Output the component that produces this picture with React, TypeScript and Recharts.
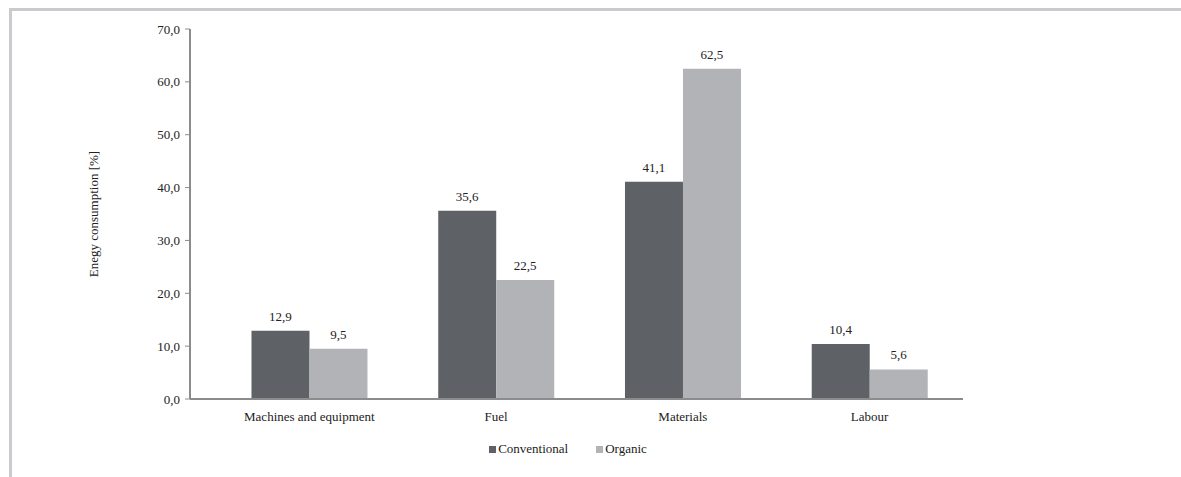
import React from 'react';
import { BarChart, Bar, XAxis, YAxis, Legend, LabelList } from 'recharts';

const categories = ['Machines and equipment', 'Fuel', 'Materials', 'Labour'];
const conventional = [12.9, 35.6, 41.1, 10.4];
const organic = [9.5, 22.5, 62.5, 5.6];
const yTicks = [0, 10, 20, 30, 40, 50, 60, 70];

const data = categories.map((c, i) => ({ name: c, Conventional: conventional[i], Organic: organic[i] }));

const FONT = '"Liberation Serif", "DejaVu Serif", serif';
const CONV = '#5e6266';
const ORG = '#b2b3b6';
const fmt = (v: any) => Number(v).toFixed(1).replace('.', ',');

if (typeof document !== 'undefined') {
  document.documentElement.style.overflow = 'hidden';
  document.body.style.overflow = 'hidden';
}

const LegendContent = () => (
  <div style={{ display: 'flex', justifyContent: 'center', fontFamily: FONT, fontSize: 13, color: '#222' }}>
    <span style={{ display: 'flex', alignItems: 'center', marginRight: 28 }}>
      <span style={{ width: 7, height: 7, background: CONV, display: 'inline-block', marginRight: 2 }} />
      Conventional
    </span>
    <span style={{ display: 'flex', alignItems: 'center' }}>
      <span style={{ width: 7, height: 7, background: ORG, display: 'inline-block', marginRight: 2 }} />
      Organic
    </span>
  </div>
);

export default function App() {
  return (
    <div style={{ position: 'fixed', left: 0, top: 0, width: 1181, height: 477, overflow: 'hidden', background: '#fff' }}>
      <div
        style={{
          position: 'absolute',
          left: 9,
          top: 8,
          width: 1300,
          height: 600,
          borderTop: '3px solid #cbcbcf',
          borderLeft: '3px solid #cbcbcf',
        }}
      />
      <div style={{ position: 'absolute', left: 8, top: 8 }}>
        <BarChart
          width={1173}
          height={469}
          data={data}
          margin={{ top: 21, right: 218, left: 122, bottom: 30 }}
          barCategoryGap="19%"
          barGap={0}
        >
          <XAxis
            dataKey="name"
            tickLine={false}
            axisLine={{ stroke: '#8c8c8c', strokeWidth: 2 }}
            tick={{ fontFamily: FONT, fontSize: 13, fill: '#222' }}
            tickMargin={7}
            height={30}
            padding={{ left: 26, right: 0 }}
          />
          <YAxis
            domain={[0, 70]}
            ticks={yTicks}
            tickFormatter={fmt}
            width={60}
            axisLine={{ stroke: '#8c8c8c', strokeWidth: 2 }}
            tickLine={{ stroke: '#8c8c8c' }}
            tickSize={5}
            tickMargin={5}
            tick={{ fontFamily: FONT, fontSize: 13, fill: '#222' }}
            interval={0}
            label={{
              value: 'Enegy consumption [%]',
              angle: -90,
              position: 'center',
              dx: -67,
              style: { fontFamily: FONT, fontSize: 13, fill: '#222', textAnchor: 'middle' },
            }}
          />
          <Legend
            verticalAlign="bottom"
            content={<LegendContent />}
            wrapperStyle={{ position: 'absolute', top: 433, left: 0, width: 1120, height: 18 }}
          />
          <Bar dataKey="Conventional" fill={CONV} isAnimationActive={false}>
            <LabelList
              dataKey="Conventional"
              position="top"
              offset={10}
              formatter={fmt}
              style={{ fontFamily: FONT, fontSize: 13, fill: '#222' }}
            />
          </Bar>
          <Bar dataKey="Organic" fill={ORG} isAnimationActive={false}>
            <LabelList
              dataKey="Organic"
              position="top"
              offset={10}
              formatter={fmt}
              style={{ fontFamily: FONT, fontSize: 13, fill: '#222' }}
            />
          </Bar>
        </BarChart>
      </div>
    </div>
  );
}
